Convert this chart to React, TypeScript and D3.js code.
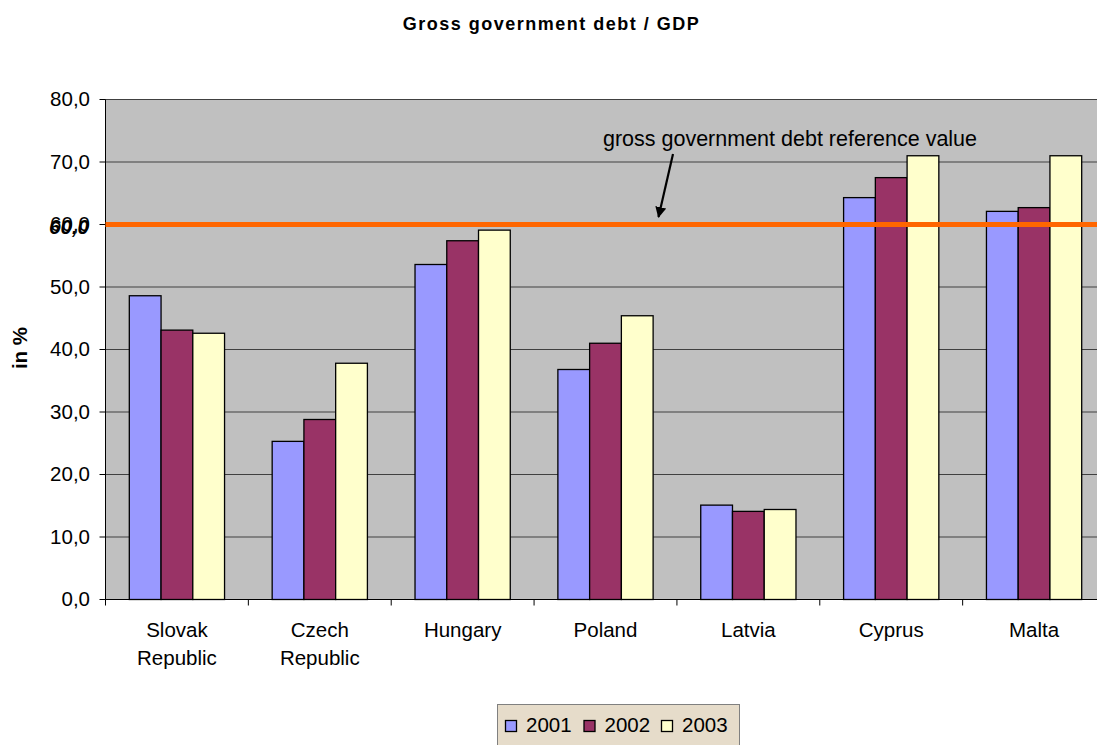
import React from "react";
import * as d3 from "d3";

const categories = [["Slovak", "Republic"], ["Czech", "Republic"], ["Hungary"], ["Poland"], ["Latvia"], ["Cyprus"], ["Malta"]];
const seriesNames = ["2001", "2002", "2003"];
const values2001 = [48.6, 25.3, 53.6, 36.8, 15.1, 64.3, 62.1];
const values2002 = [43.1, 28.8, 57.4, 41.0, 14.1, 67.5, 62.7];
const values2003 = [42.6, 37.8, 59.1, 45.4, 14.4, 71.0, 71.0];
const yTicks = [0, 10, 20, 30, 40, 50, 60, 70, 80];
const referenceValue = 60;
const colors = ["#9999FF", "#993366", "#FFFFCC"];

const W = 1097, H = 745;
const left = 105.5, top = 99.5, bottom = 599.5, right = 1105.5;
const font = "Arial, 'Liberation Sans', sans-serif";
const fs = 20.5;

export default function App() {
  const series = [values2001, values2002, values2003];
  const x = d3.scaleBand<number>().domain(d3.range(categories.length)).range([left, right]).paddingInner(0).paddingOuter(0);
  const inner = d3.scaleBand<number>().domain([0, 1, 2]).range([0, x.bandwidth()]).paddingInner(0).paddingOuter(0.75);
  const y = d3.scaleLinear().domain([0, 80]).range([bottom, top]);
  const fmt = (v: number) => v.toFixed(1).replace(".", ",");
  const refY = y(referenceValue);
  return (
    <svg width={W} height={H} style={{ position: "absolute", left: 0, top: 0 }} fontFamily={font}>
      <rect x={0} y={0} width={W} height={H} fill="#fff" />
      <text x={551.5} y={29.5} textAnchor="middle" fontSize={18} fontWeight="bold" letterSpacing={1.5}>Gross government debt / GDP</text>
      <rect x={left} y={top} width={right - left} height={bottom - top} fill="#C0C0C0" stroke="#808080" />
      {yTicks.filter(t => t > 0).map(t => (
        <line key={t} x1={left} x2={right} y1={y(t)} y2={y(t)} stroke="#404040" strokeWidth={1} />
      ))}
      {series.map((vals, si) => vals.map((v, ci) => (
        <rect key={si + "-" + ci} x={x(ci)! + inner(si)!} y={y(v)} width={inner.bandwidth()} height={y(0) - y(v)}
          fill={colors[si]} stroke="#000" strokeWidth={1.3} />
      )))}
      <line x1={left} x2={left} y1={top} y2={bottom} stroke="#000" />
      <line x1={left} x2={right} y1={bottom} y2={bottom} stroke="#000" />
      {yTicks.map(t => (
        <g key={t}>
          <line x1={left - 6} x2={left} y1={y(t)} y2={y(t)} stroke="#000" />
          <text x={90} y={y(t) + 6.5} textAnchor="end" fontSize={fs}>{fmt(t)}</text>
        </g>
      ))}
      <text x={89} y={refY + 9.5} textAnchor="end" fontSize={fs} fontWeight="bold" fontStyle="italic">{fmt(referenceValue)}</text>
      {categories.map((_, ci) => (
        <line key={ci} x1={x(ci)!} x2={x(ci)!} y1={bottom} y2={bottom + 6} stroke="#000" />
      ))}
      {categories.map((lines, ci) => (
        <text key={ci} x={x(ci)! + x.bandwidth() / 2} textAnchor="middle" fontSize={fs}>
          {lines.map((l, li) => <tspan key={li} x={x(ci)! + x.bandwidth() / 2} y={637 + li * 28}>{l}</tspan>)}
        </text>
      ))}
      <line x1={left} x2={right} y1={refY} y2={refY} stroke="#FF6600" strokeWidth={5} />
      <text x={790} y={146} textAnchor="middle" fontSize={21.5}>gross government debt reference value</text>
      <defs>
        <marker id="ah" viewBox="0 0 10 10" refX={9} refY={5} markerWidth={5} markerHeight={5} orient="auto">
          <path d="M0,0 L10,5 L0,10 z" fill="#000" />
        </marker>
      </defs>
      <line x1={673} y1={154} x2={658.5} y2={217} stroke="#000" strokeWidth={2.2} markerEnd="url(#ah)" />
      <text x={27} y={348} transform="rotate(-90 27 348)" textAnchor="middle" fontSize={20.5} fontWeight="bold">in %</text>
      <g>
        <rect x={497.5} y={704.5} width={242} height={46} fill="#E6DCCA" stroke="#808080" />
        {seriesNames.map((n, i) => {
          const sx = [505, 583.5, 661][i];
          return (
            <g key={n}>
              <rect x={sx + 0.5} y={720.5} width={11} height={11} fill={colors[i]} stroke="#000" strokeWidth={1.3} />
              <text x={sx + 21} y={731.5} fontSize={fs}>{n}</text>
            </g>
          );
        })}
      </g>
    </svg>
  );
}
